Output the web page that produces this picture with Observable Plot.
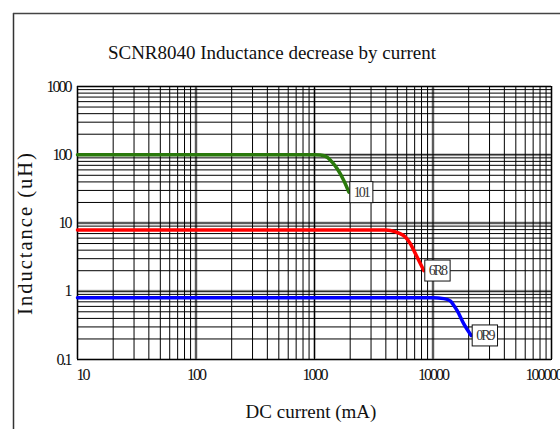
<!DOCTYPE html>
<html><head><meta charset="utf-8">
<script src="https://cdn.jsdelivr.net/npm/d3@7"></script>
<script src="https://cdn.jsdelivr.net/npm/@observablehq/plot@0.6"></script>
<style>
body{margin:0;background:#fff;}
svg{overflow:visible}
</style></head><body><div id="chart"></div>
<script>
const title = "SCNR8040 Inductance decrease by current";
const xLabel = "DC current (mA)";
const yLabel = "Inductance (uH)";
const xTicks = [10, 100, 1000, 10000, 100000];
const xTickLabels = ["10", "100", "1000", "10000", "100000"];
const yTicks = [0.1, 1, 10, 100, 1000];
const yTickLabels = ["0.1", "1", "10", "100", "1000"];
const gridMultiples = [1, 2, 3, 4, 5, 6, 7, 8, 9];

const seriesNames = ["101", "6R8", "0R9"];
const seriesColors = ["#2a7a0c", "#ff0000", "#0000ff"];
const current101 = [10, 1000, 1123, 1280, 1410, 1555, 1767, 1950];
const induct101  = [100, 100, 99, 92, 77.8, 62.2, 42, 28.3];
const current6R8 = [10, 4000, 4380, 5145, 5860, 6457, 6890, 7590, 8360];
const induct6R8  = [7.9, 7.9, 7.76, 7.1, 6.19, 4.95, 3.95, 2.82, 2.01];
const current0R9 = [10, 10000, 12330, 14060, 14990, 16000, 18200, 21000];
const induct0R9  = [0.8, 0.8, 0.78, 0.715, 0.618, 0.52, 0.333, 0.225];

const currents = [current101, current6R8, current0R9];
const inducts = [induct101, induct6R8, induct0R9];
const series = seriesNames.map((name, k) => ({
  name, color: seriesColors[k],
  rows: currents[k].map((c, i) => ({x: c, y: inducts[k][i]}))
}));
const xGrid = xTicks.slice(0, -1).flatMap(d => gridMultiples.map(m => d * m)).concat([100000]);
const yGrid = yTicks.slice(0, -1).flatMap(d => gridMultiples.map(m => +(d * m).toPrecision(3))).concat([1000]);

const ff = "'Liberation Serif', 'Times New Roman', serif";
const chart = Plot.plot({
  width: 560, height: 429,
  marginLeft: 77, marginRight: 9, marginTop: 86, marginBottom: 70,
  x: {type: "log", domain: [10, 100000]},
  y: {type: "log", domain: [0.1, 1000]},
  style: {fontFamily: ff, background: "white", color: "#111"},
  marks: [
    Plot.gridX(xTicks, {stroke: "#888", strokeWidth: 3, strokeOpacity: 0.6}),
    Plot.gridY(yTicks, {stroke: "#888", strokeWidth: 3, strokeOpacity: 0.6}),
    Plot.gridX(xGrid, {stroke: "#000", strokeOpacity: 1, strokeWidth: 1}),
    Plot.gridY(yGrid, {stroke: "#000", strokeOpacity: 1, strokeWidth: 1}),
    Plot.frame({stroke: "#000"}),
    Plot.axisX(xTicks, {tickSize: 0, tickPadding: 9, fontSize: 16, label: null,
      tickFormat: d => xTickLabels[xTicks.indexOf(d)]}),
    Plot.axisY(yTicks, {tickSize: 0, tickPadding: 7, fontSize: 16, label: null,
      tickFormat: d => yTickLabels[yTicks.indexOf(d)]}),
    ...series.map(s => Plot.line(s.rows, {x: "x", y: "y", stroke: s.color, strokeWidth: 3.5, curve: "monotone-x"})),
    ...series.map(s => Plot.text([s.rows[s.rows.length - 1]], {x: "x", y: "y", text: () => s.name,
      textAnchor: "start", dx: 5, fontSize: 14, fill: "#333", lineAnchor: "middle"}))
  ]
});
document.getElementById("chart").appendChild(chart);
const svg = d3.select(chart);
svg.selectAll('g[aria-label="x-axis tick label"] text, g[aria-label="y-axis tick label"] text')
  .style("letter-spacing", "-2px");
svg.selectAll('g[aria-label="x-axis tick label"] text')
  .filter(function() { return this.textContent === "100000"; })
  .attr("dx", -8);
svg.selectAll('g[aria-label="x-axis tick label"] text')
  .filter(function() { return this.textContent === "10"; })
  .attr("dx", 5);
svg.selectAll('g[aria-label="text"] text').each(function() {
  d3.select(this).style("letter-spacing", "-2px");
  const b = this.getBBox();
  const t = this.getAttribute("transform");
  d3.select(this.parentNode).insert("rect", () => this)
    .attr("transform", t)
    .attr("x", b.x - 4).attr("y", b.y - 3)
    .attr("width", b.width + 6).attr("height", b.height + 6)
    .attr("fill", "white").attr("stroke", "#111").attr("stroke-width", 1);
});
// outer frame
svg.append("line").attr("x1", 13.5).attr("x2", 13.5).attr("y1", 13).attr("y2", 429)
  .attr("stroke", "#333").attr("stroke-width", 1.5);
svg.append("line").attr("x1", 13).attr("x2", 560).attr("y1", 13.5).attr("y2", 13.5)
  .attr("stroke", "#444").attr("stroke-width", 1.5);
svg.append("text").attr("x", 272).attr("y", 59).attr("text-anchor", "middle")
  .attr("font-family", ff).attr("font-size", 19).attr("fill", "#111").text(title);
svg.append("text").attr("x", 311).attr("y", 418).attr("text-anchor", "middle")
  .attr("font-family", ff).attr("font-size", 19).attr("fill", "#111").text(xLabel);
svg.append("text").attr("transform", "translate(32,233) rotate(-90)").attr("text-anchor", "middle")
  .attr("font-family", ff).attr("font-size", 20.5).attr("fill", "#111")
  .style("letter-spacing", "2px").text(yLabel);
</script></body></html>
